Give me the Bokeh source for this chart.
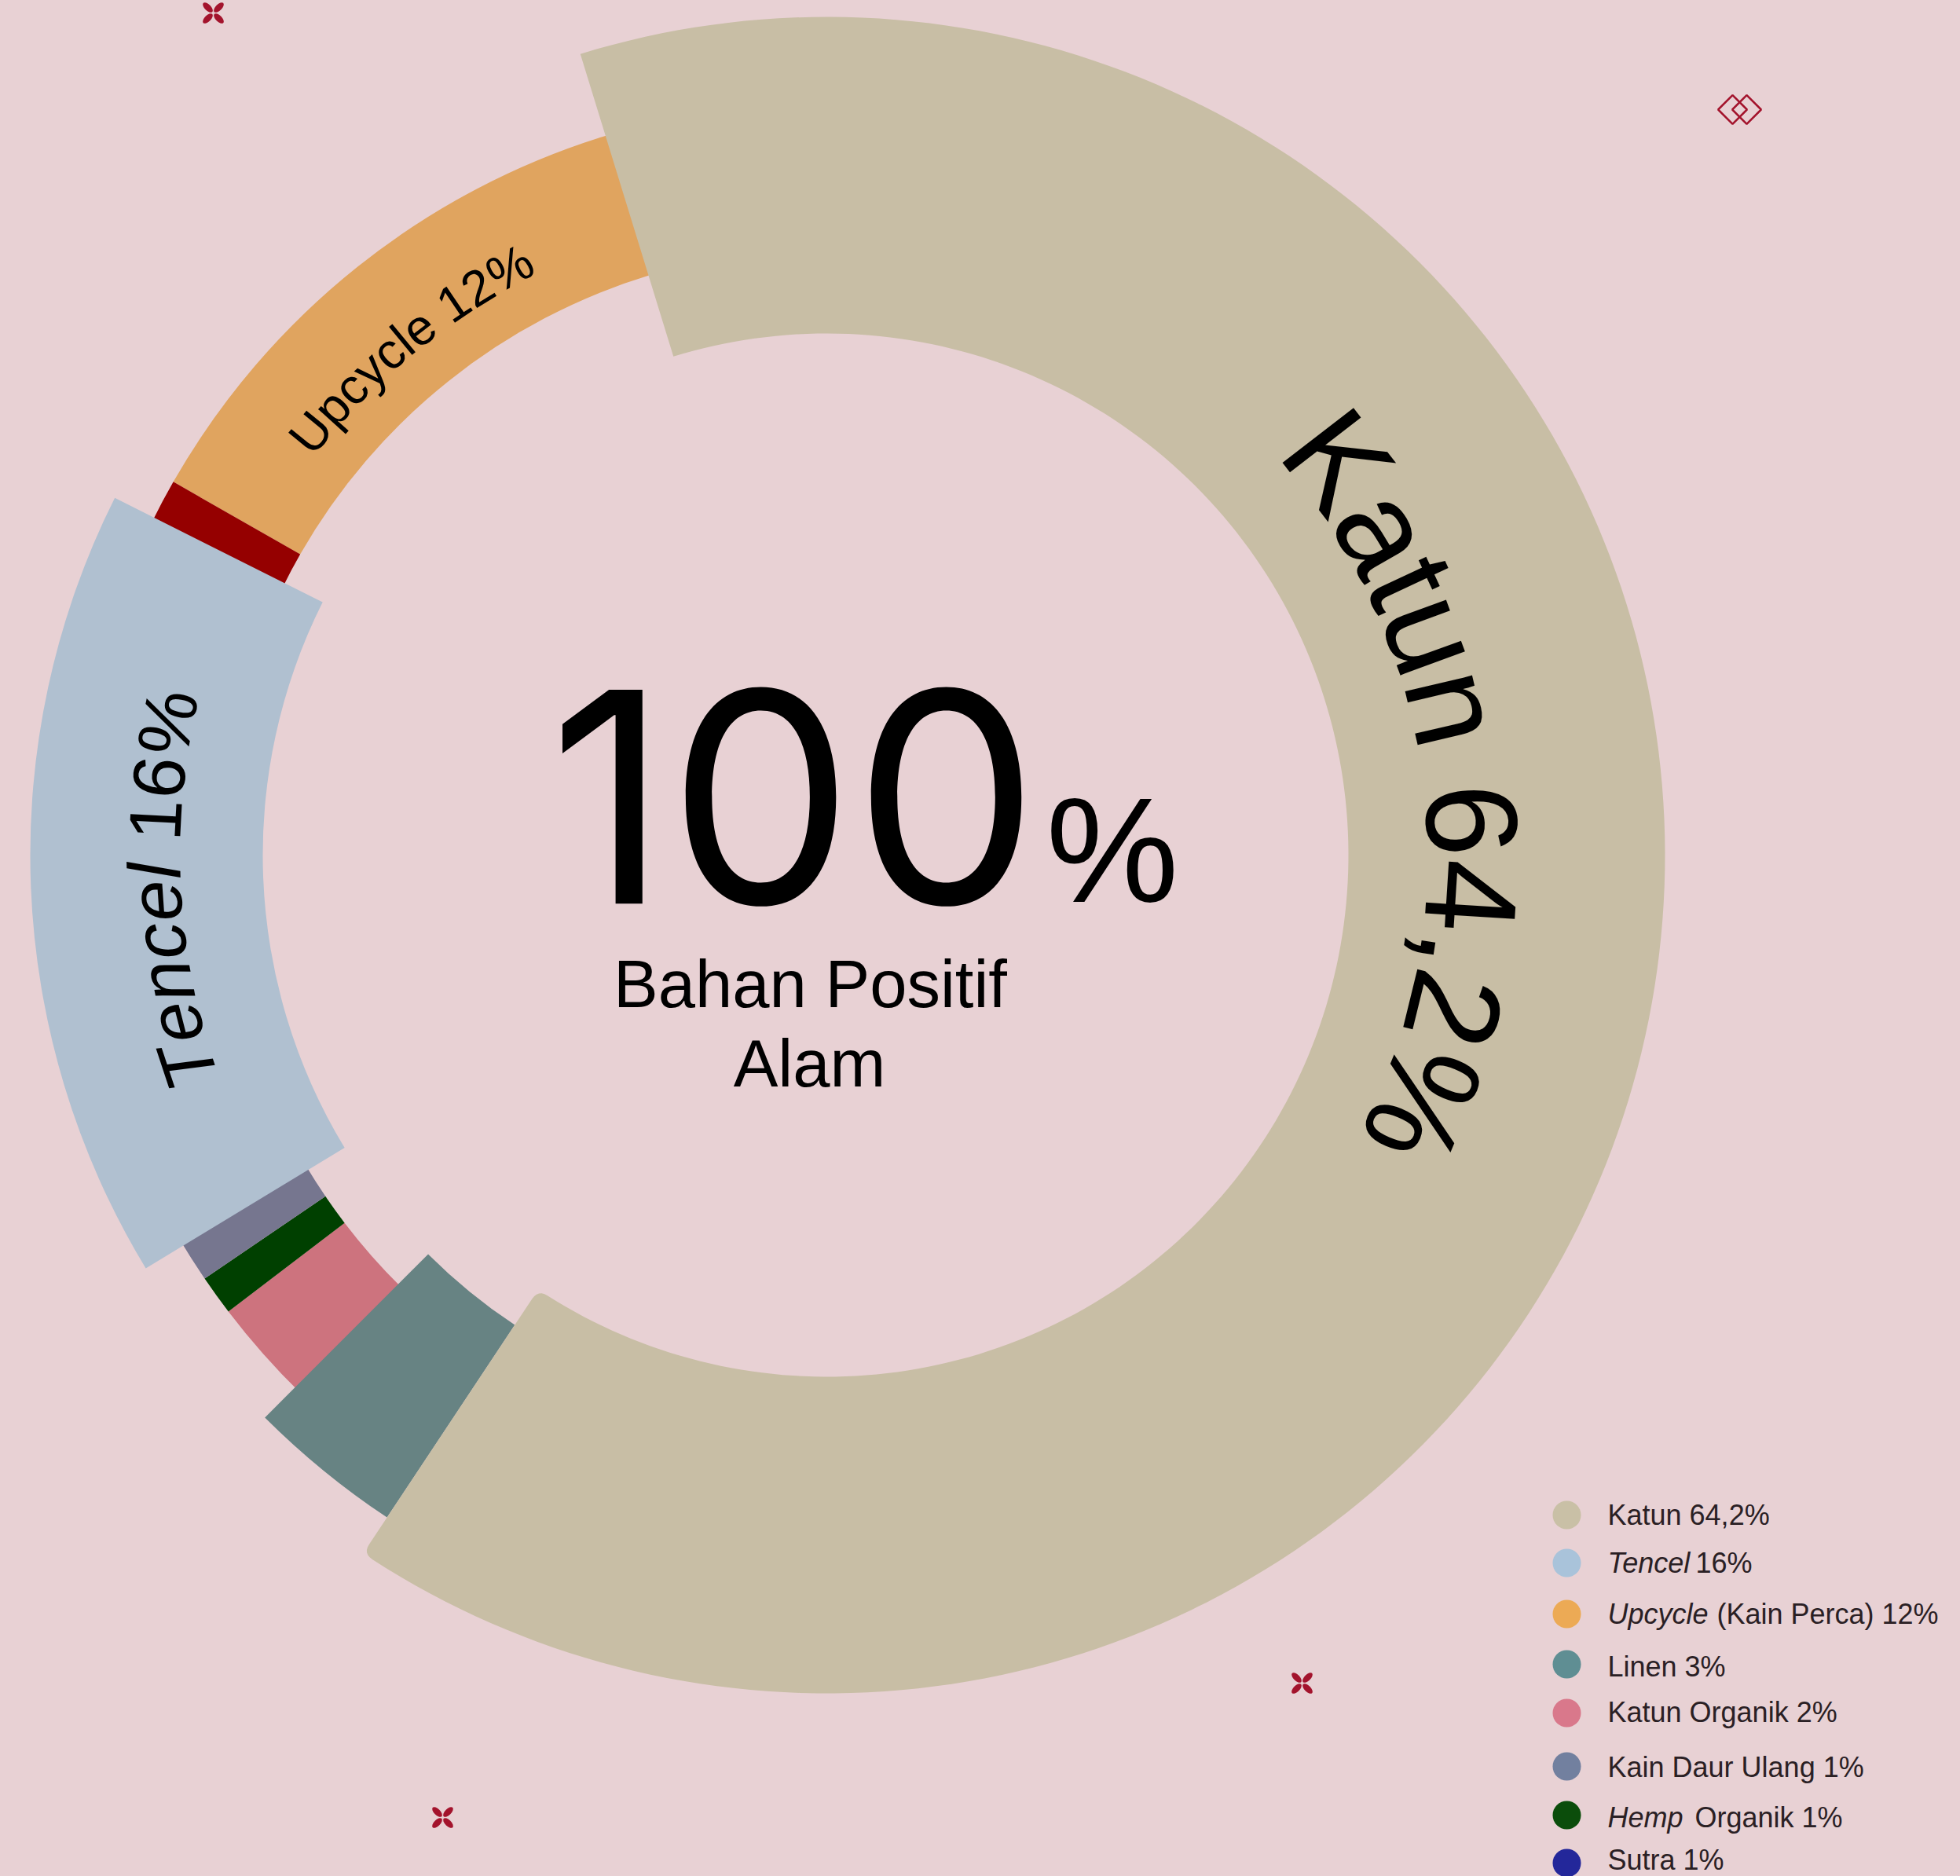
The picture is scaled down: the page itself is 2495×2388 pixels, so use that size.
import math
from bokeh.plotting import figure
from bokeh.embed import file_html
from bokeh.resources import INLINE
from bokeh.core.properties import value

W, H = 2495, 2388
BG = "#e8d1d4"

# Ring slices, in clockwise order from the start of Katun (shares)
slice_names = ["Katun", "Linen", "Katun Organik", "Hemp Organik", "Kain Daur Ulang", "Tencel", "Sutra", "Upcycle"]
slice_shares = [64.08, 3.08, 2.22, 0.86, 0.83, 16.08, 0.86, 11.97]
slice_inner = [664, 718, 772, 772, 772, 718, 772, 772]
slice_outer = [1067, 1012, 958, 958, 958, 1014, 958, 958]
slice_colors = ["#c8bea5", "#678383", "#cd737e", "#004000", "#76768f", "#b0c0d0", "#950000", "#e0a45f"]
draw_order = [7, 6, 2, 3, 4, 5, 1]
lap_start = {6: 0.3, 2: 0.3}
lap_end = {7: 0.3, 4: 0.3, 1: 0.3}
start_angle = -17.1

legend_regular = ["Katun 64,2%", "16%", "(Kain Perca) 12%", "Linen 3%", "Katun Organik 2%", "Kain Daur Ulang 1%", "Organik 1%", "Sutra 1%"]
legend_italic = ["", "Tencel", "Upcycle", "", "", "", "Hemp", ""]
legend_colors = ["#c9c0a6", "#a9c3da", "#ecaa55", "#5f8e93", "#d9788b", "#72809f", "#0b4d0b", "#23279a"]
legend_y = [1928, 1989, 2054, 2118, 2180, 2248, 2310, 2371]
legend_base = [1941, 2002, 2067, 2134, 2192, 2262, 2326, 2380]
legend_reg_x = [2046, 2158, 2185, 2046, 2046, 2046, 2157, 2046]

cx, cy = 1052, 1088
FONT = "Liberation Sans"
BASE = 0.36  # distance by which the renderer lowers an "alphabetic" anchor, in em

p = figure(width=W, height=H, x_range=(0, W), y_range=(0, H),
           output_backend="svg", toolbar_location=None, background_fill_color=BG,
           border_fill_color=BG, min_border=0, outline_line_color=None)
p.axis.visible = False
p.grid.visible = False

def Y(y):
    return H - y

def polar(r, deg):
    a = math.radians(deg)
    return cx + r * math.sin(a), Y(cy) + r * math.cos(a)

# ring
bounds = [start_angle]
for s in slice_shares:
    bounds.append(bounds[-1] + s * 3.6)
for i in draw_order:
    a0, a1 = bounds[i] - lap_start.get(i, 0), bounds[i + 1] + lap_end.get(i, 0)
    p.annular_wedge(x=[cx], y=[Y(cy)], inner_radius=slice_inner[i], outer_radius=slice_outer[i],
                    start_angle=math.radians(90 - a1), end_angle=math.radians(90 - a0),
                    fill_color=slice_colors[i], line_color=None)

# the largest slice lies on top and has rounded corners at its far end
def rounded_slice(i, rho=14, n=6):
    a0, a1, ri, ro = bounds[i], bounds[i + 1], slice_inner[i], slice_outer[i]
    pts = []
    do = math.degrees(rho / ro)
    di = math.degrees(rho / ri)
    pts += [polar(ro, a0 + (a1 - do - a0) * k / 200) for k in range(201)]
    c, e = polar(ro, a1), polar(ro - rho, a1)
    s = pts[-1]
    pts += [((1 - t) ** 2 * s[0] + 2 * t * (1 - t) * c[0] + t * t * e[0],
             (1 - t) ** 2 * s[1] + 2 * t * (1 - t) * c[1] + t * t * e[1]) for t in [k / n for k in range(1, n + 1)]]
    s, c, e = polar(ri + rho, a1), polar(ri, a1), polar(ri, a1 - di)
    pts += [((1 - t) ** 2 * s[0] + 2 * t * (1 - t) * c[0] + t * t * e[0],
             (1 - t) ** 2 * s[1] + 2 * t * (1 - t) * c[1] + t * t * e[1]) for t in [k / n for k in range(n + 1)]]
    pts += [polar(ri, a1 - di + (a0 - a1 + di) * k / 200) for k in range(1, 201)]
    return [q[0] for q in pts], [q[1] for q in pts]

kx, ky = rounded_slice(0)
p.patch(kx, ky, fill_color=slice_colors[0], line_color=None)

# glyph advances of the font in em, used for laying labels along the arcs
ADV = {" ": .278, ",": .278, "%": .889, "1": .556, "2": .556, "4": .556, "6": .556, "K": .667, "T": .611, "U": .722,
       "a": .556, "c": .5, "e": .556, "l": .222, "n": .556, "p": .556, "t": .278, "u": .556, "y": .5}

def arc_text(txt, r, start, size, italic_upto=0, track=0.0):
    th = start
    for k, ch in enumerate(txt):
        adv = ADV[ch] * size + track
        mid = th + math.degrees(adv / 2 / r)
        rad = math.radians(mid)
        if ch != " ":
            x, y = polar(r + BASE * size, mid)
            p.text(x=[x], y=[y], text=[ch], angle=[-rad],
                   text_font=value(FONT), text_font_size=f"{size}px", text_color="#000000", text_align="center",
                   text_baseline="alphabetic", text_font_style="italic" if k < italic_upto else "normal")
        th += math.degrees(adv / r)

arc_text("Katun 64,2%", 762, 48.3, 166, track=-2)
arc_text("Tencel 16%", 822, 249.7, 94, italic_upto=6)
arc_text("Upcycle 12%", 826, 307.7, 64)

def label(x, y, txt, size, italic=False, color="#000000", align="left", font=FONT):
    p.text(x=[x], y=[Y(y) + BASE * size], text=[txt], text_font=value(font), text_font_size=f"{size}px", text_color=color,
           text_align=align, text_baseline="alphabetic", text_font_style="italic" if italic else "normal")

label(698, 1147, "100", 374, font="Inter")
label(1331, 1150, "%", 190)
label(1031, 1283, "Bahan Positif", 85, align="center")
label(1030, 1384, "Alam", 85, align="center")

# legend
p.scatter(x=[1994] * 8, y=[Y(v) for v in legend_y], size=36, marker="circle", fill_color=legend_colors, line_color=None)
for yy, it, reg, rx in zip(legend_base, legend_italic, legend_regular, legend_reg_x):
    if it:
        label(2046, yy, it, 36, italic=True, color="#2a2024")
    label(rx, yy, reg, 36, color="#2a2024")

# ornaments
ORN = "#a3132c"
for fx, fy in [(271, 16), (1657, 2142), (563, 2313)]:
    for dx, dy, ang in [(7, 7, 45), (-7, 7, -45), (7, -7, -45), (-7, -7, 45)]:
        p.ellipse(x=[fx + dx], y=[Y(fy) + dy], width=16, height=8, angle=math.radians(ang), fill_color=ORN, line_color=None)
p.scatter(x=[2205, 2223], y=[Y(139), Y(139)], size=26, marker="square", angle=math.radians(45),
          fill_color=None, line_color=ORN, line_width=2.5)

html = file_html(p, INLINE)
html = html.replace("<head>", f"<head><style>html,body{{background:{BG};}}</style>", 1)
open("out.html", "w").write(html)
